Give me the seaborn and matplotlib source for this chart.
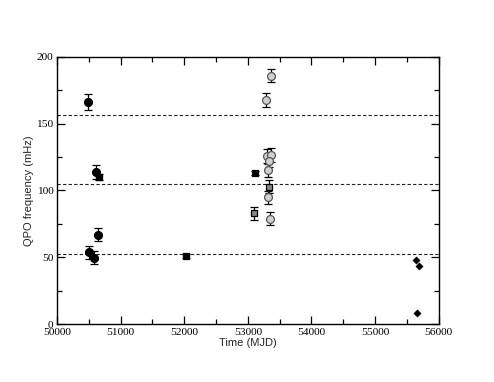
import numpy as np
import pandas as pd
import matplotlib
matplotlib.use("Agg")
import matplotlib.pyplot as plt
import seaborn as sns
from matplotlib.ticker import MultipleLocator

# filled circles
circ_mjd = [50482, 50608, 50644, 50503, 50587]
circ_f = [166.0, 113.8, 66.8, 53.6, 49.6]
circ_err = [6.0, 5.0, 5.0, 5.0, 5.0]

# filled squares
sq_mjd = [50655, 52032, 53116]
sq_f = [110.0, 50.7, 112.8]
sq_err = [2.0, 1.5, 1.5]

# grey squares
gsq_mjd = [53095, 53336]
gsq_f = [82.8, 102.8]
gsq_err = [5.0, 5.0]

# open (grey) circles
oc_mjd = [53362, 53279, 53294, 53357, 53331, 53315, 53315, 53341]
oc_f = [185.9, 167.7, 125.7, 126.5, 122.3, 115.0, 94.8, 78.8]
oc_err = [5.0, 5.0, 5.0, 5.0, 5.0, 5.0, 5.0, 5.0]

# diamonds
dia_mjd = [55636, 55687, 55660]
dia_f = [47.9, 43.6, 8.0]

harmonics = [52.2, 104.4, 156.6]

sns.set_theme(style="ticks")
plt.rcParams["font.family"] = ["Liberation Serif", "DejaVu Serif"]

fig = plt.figure(figsize=(4.94, 3.82), dpi=100)
ax = fig.add_axes([0.1154, 0.1518, 0.7726, 0.6998])

for h in harmonics:
    ax.axhline(h, color="#222222", linestyle=(0, (3, 2)), linewidth=0.8, zorder=1)

groups = [
    (circ_mjd, circ_f, circ_err, "o", "black", "black", 32),
    (sq_mjd, sq_f, sq_err, "s", "black", "black", 24),
    (gsq_mjd, gsq_f, gsq_err, "s", "#888888", "black", 24),
    (oc_mjd, oc_f, oc_err, "o", "#d0d0d0", "#555555", 32),
]
for mjd, f, err, mk, fc, ec, s in groups:
    ax.errorbar(mjd, f, yerr=err, fmt="none", ecolor="black", elinewidth=0.9,
                capsize=2.8, capthick=0.9, zorder=2)
    df = pd.DataFrame({"mjd": mjd, "f": f})
    sns.scatterplot(data=df, x="mjd", y="f", marker=mk, color=fc, edgecolor=ec,
                    linewidth=0.9, s=s, ax=ax, zorder=3)

df_d = pd.DataFrame({"mjd": dia_mjd, "f": dia_f})
sns.scatterplot(data=df_d, x="mjd", y="f", marker="D", color="black",
                edgecolor="black", s=14, ax=ax, zorder=3)

ax.set_xlim(50000, 56000)
ax.set_ylim(0, 200)
ax.xaxis.set_major_locator(MultipleLocator(1000))
ax.xaxis.set_minor_locator(MultipleLocator(500))
ax.yaxis.set_major_locator(MultipleLocator(50))
ax.yaxis.set_minor_locator(MultipleLocator(25))
ax.tick_params(which="both", direction="in", top=True, right=True,
               labelsize=8.2, width=0.9, colors="black")
ax.tick_params(axis="x", pad=3.2)
ax.tick_params(axis="y", pad=2.5)
ax.tick_params(which="major", length=6)
ax.tick_params(which="minor", length=3.5)
for sp in ax.spines.values():
    sp.set_linewidth(1.0)
    sp.set_color("black")

# lift the "0" label a touch so it clears "50000"
ax.get_yticklabels()[0].set_va("bottom")

lab = dict(family=["Liberation Sans", "DejaVu Sans"], fontsize=8)
ax.set_xlabel("Time (MJD)", labelpad=0.5, **lab)
ax.set_ylabel("QPO frequency (mHz)", labelpad=2, **lab)

fig.savefig("out.png", dpi=100)
